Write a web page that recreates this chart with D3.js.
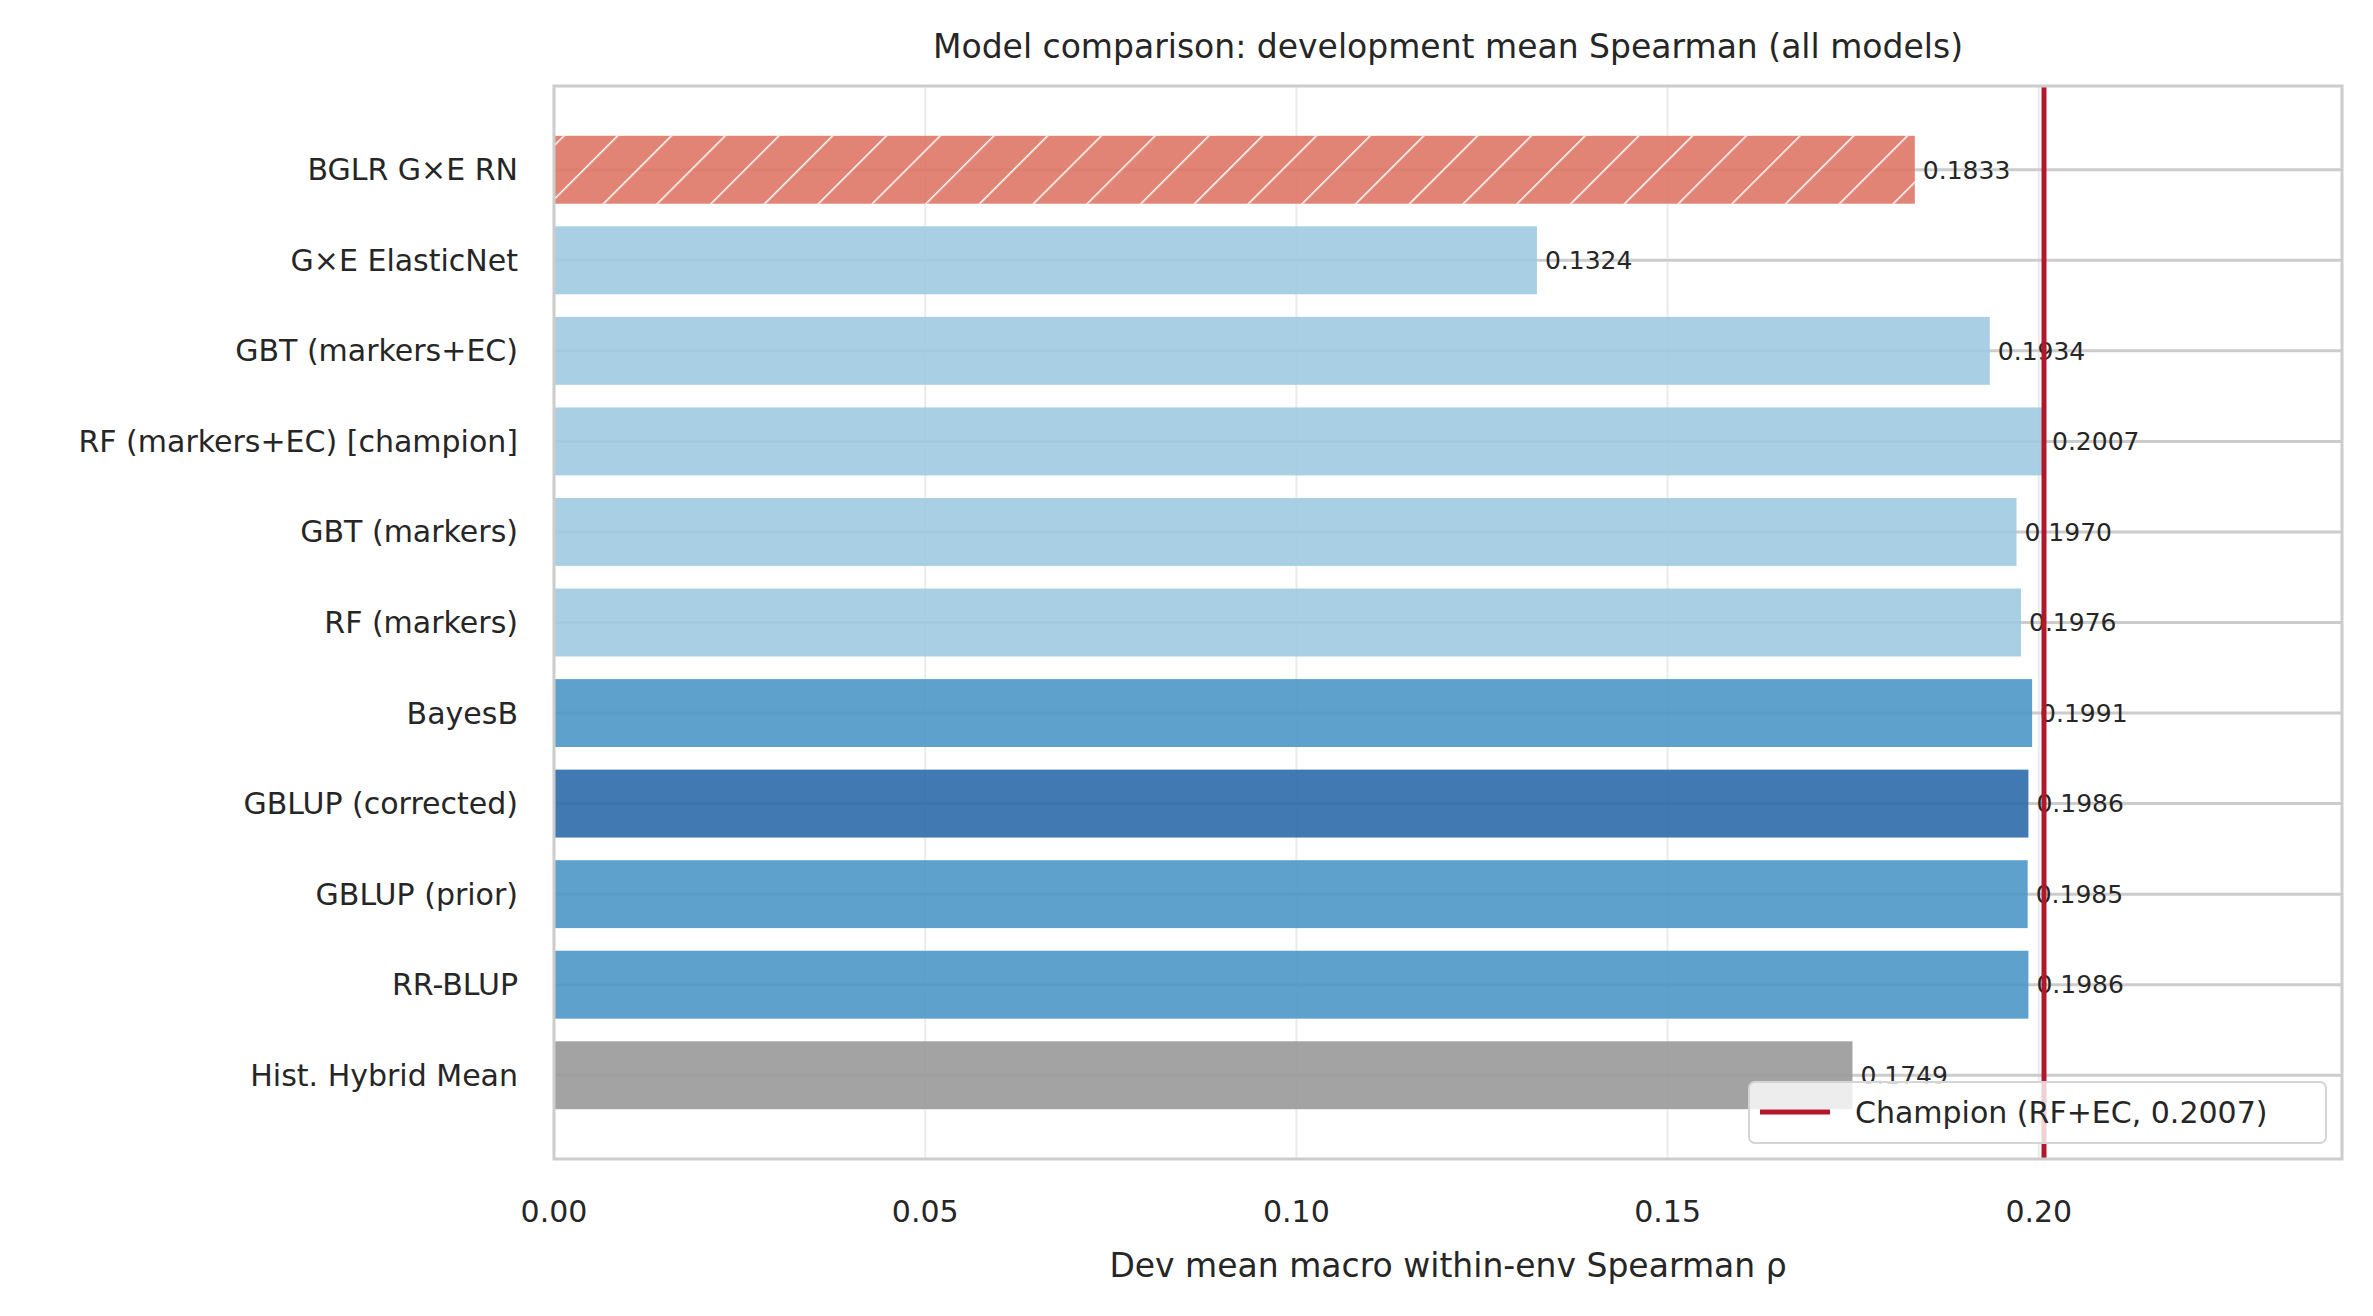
<!DOCTYPE html>
<html><head><meta charset="utf-8">
<script src="https://cdn.jsdelivr.net/npm/d3@7"></script>
<style>body{margin:0;background:#fff}text{font-family:"DejaVu Sans",sans-serif;fill:#262626}</style>
</head><body>
<svg width="2373" height="1316"></svg>
<script>
var models = ["BGLR G×E RN","G×E ElasticNet","GBT (markers+EC)","RF (markers+EC) [champion]","GBT (markers)","RF (markers)","BayesB","GBLUP (corrected)","GBLUP (prior)","RR-BLUP","Hist. Hybrid Mean"]
var values = [0.1833,0.1324,0.1934,0.2007,0.1970,0.1976,0.1991,0.1986,0.1985,0.1986,0.1749]
var colors = ["#de7766","#9ecae1","#9ecae1","#9ecae1","#9ecae1","#9ecae1","#4e97c8","#2c6aab","#4e97c8","#4e97c8","#999999"]
var xticks = [0,0.05,0.10,0.15,0.20]
var champion = 0.2007

var L=554,R=2342,T=86,B=1159
var svg = d3.select("svg")
var x = d3.scaleLinear().domain([0, champion*1.2]).range([L,R])
var y = d3.scaleBand().domain(models).range([T,B]).paddingInner(0.25).paddingOuter(0.55)

var defs = svg.append("defs")
var pat = defs.append("pattern").attr("id","hatch").attr("patternUnits","userSpaceOnUse")
  .attr("width",38).attr("height",38).attr("patternTransform","rotate(45)")
pat.append("line").attr("x1",0).attr("y1",0).attr("x2",0).attr("y2",38)
  .attr("stroke","#fff").attr("stroke-width",3)

// grid
svg.selectAll(".vg").data(xticks).enter().append("line")
  .attr("x1",d=>x(d)).attr("x2",d=>x(d)).attr("y1",T).attr("y2",B)
  .attr("stroke","#ebebeb").attr("stroke-width",2)
svg.selectAll(".hg").data(models).enter().append("line")
  .attr("x1",L).attr("x2",R).attr("y1",d=>y(d)+y.bandwidth()/2).attr("y2",d=>y(d)+y.bandwidth()/2)
  .attr("stroke","#cccccc").attr("stroke-width",3)

var bars = svg.selectAll(".bar").data(models).enter().append("g")
bars.append("rect").attr("x",x(0)).attr("y",d=>y(d))
  .attr("width",(d,i)=>x(values[i])-x(0)).attr("height",y.bandwidth())
  .attr("fill",(d,i)=>colors[i]).attr("opacity",0.9)
bars.filter((d,i)=>i==0).append("rect").attr("x",x(0)).attr("y",d=>y(d))
  .attr("width",x(values[0])-x(0)).attr("height",y.bandwidth()).attr("fill","url(#hatch)")
bars.append("text").attr("x",(d,i)=>x(values[i])+8).attr("y",d=>y(d)+y.bandwidth()/2)
  .attr("dy","0.35em").attr("font-size",25).text((d,i)=>values[i].toFixed(4))

// champion line
svg.append("line").attr("x1",x(champion)).attr("x2",x(champion)).attr("y1",T).attr("y2",B)
  .attr("stroke","#b2182b").attr("stroke-width",5)

// frame
svg.append("rect").attr("x",L).attr("y",T).attr("width",R-L).attr("height",B-T)
  .attr("fill","none").attr("stroke","#cccccc").attr("stroke-width",3)

// y labels
svg.selectAll(".yl").data(models).enter().append("text")
  .attr("x",518).attr("y",d=>y(d)+y.bandwidth()/2).attr("dy","0.35em")
  .attr("text-anchor","end").attr("font-size",30).text(d=>d)
// x ticks
svg.selectAll(".xt").data(xticks).enter().append("text")
  .attr("x",d=>x(d)).attr("y",1222).attr("text-anchor","middle").attr("font-size",30)
  .text(d=>d.toFixed(2))
svg.append("text").attr("x",(L+R)/2).attr("y",1277).attr("text-anchor","middle")
  .attr("font-size",33).text("Dev mean macro within-env Spearman ρ")
svg.append("text").attr("x",(L+R)/2).attr("y",58).attr("text-anchor","middle")
  .attr("font-size",33).text("Model comparison: development mean Spearman (all models)")

// legend
var lg = svg.append("g")
lg.append("rect").attr("x",1749).attr("y",1082).attr("width",577).attr("height",61).attr("rx",6)
  .attr("fill","#fff").attr("fill-opacity",0.8).attr("stroke","#d5d5d5").attr("stroke-width",2)
lg.append("line").attr("x1",1760).attr("x2",1830).attr("y1",1112).attr("y2",1112)
  .attr("stroke","#b2182b").attr("stroke-width",5)
lg.append("text").attr("x",1855).attr("y",1112).attr("dy","0.35em").attr("font-size",30)
  .text("Champion (RF+EC, " + champion.toFixed(4) + ")")
</script>
</body></html>
